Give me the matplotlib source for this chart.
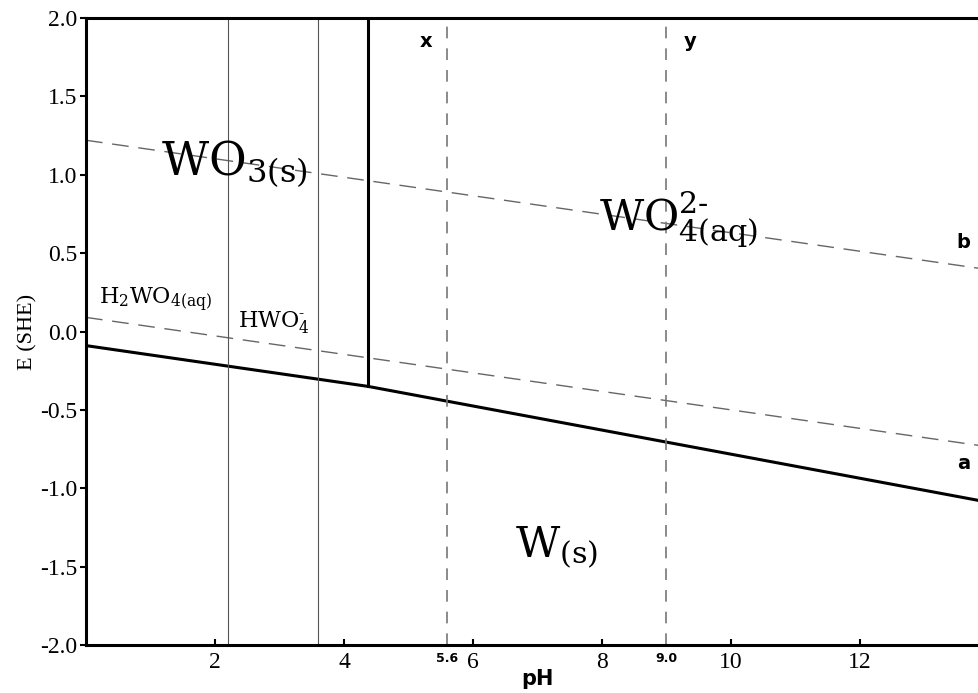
import numpy as np
import matplotlib
matplotlib.use('Agg')
from matplotlib import pyplot as plt

## DATA

# pH range and E range of the diagram
ph_lim = [0, 14]
e_lim = [-2.0, 2.0]

# tick labels
x_ticks = [2, 4, 6, 8, 10, 12]
y_ticks = [-2.0, -1.5, -1.0, -0.5, 0.0, 0.5, 1.0, 1.5, 2.0]

# water stability lines (dashed): E = intercept + slope * pH
water_b = [1.22, -0.059]
water_a = [0.09, -0.059]

# lower solid boundary: W(s) / oxide, break at pH 4.37
w_low_ph = [0, 4.37, 14]
w_low_e = [-0.09, -0.35, -1.09]

# vertical boundaries
wo3_edge_ph = 4.37       # WO3(s) / WO4^2- (thick)
acid_ph = [2.2, 3.6]     # H2WO4 / HWO4- / WO4^2- (thin)
marked_ph = [5.6, 9.0]   # x and y dashed lines

plt.rcParams['mathtext.fontset'] = 'dejavuserif'

fig = plt.figure(figsize=(9.79, 6.93), dpi=100)
ax = fig.add_axes([86/979, 48/693, 903/979, 627/693])

ph = np.array(ph_lim)
ax.plot(ph, water_b[0] + water_b[1]*ph, color='#666666', lw=1, dashes=(12, 7))
ax.plot(ph, water_a[0] + water_a[1]*ph, color='#666666', lw=1, dashes=(12, 7))

ax.plot(w_low_ph, w_low_e, color='black', lw=2.2)
ax.plot([wo3_edge_ph, wo3_edge_ph], [w_low_e[1], e_lim[1]], color='black', lw=2.2)

for p in acid_ph:
    ax.axvline(p, color='#555555', lw=0.8)
for p in marked_ph:
    ax.plot([p, p], [e_lim[0], 1.95], color='#777777', lw=1.2, dashes=(7, 6))

ax.set_xlim(ph_lim)
ax.set_ylim(e_lim)

# species labels
ax.text(1.17, 1.07, r'$\mathrm{WO_{3(s)}}$', fontsize=33, ha='left', va='center')
ax.text(7.95, 0.71, r'$\mathrm{WO_{4(aq)}^{2\text{-}}}$', fontsize=31, ha='left', va='center')
ax.text(6.65, -1.38, r'$\mathrm{W_{(s)}}$', fontsize=31, ha='left', va='center')
ax.text(0.2, 0.2, r'$\mathrm{H_2WO_{4(aq)}}$', fontsize=16, ha='left', va='center')
ax.text(2.35, 0.06, r'$\mathrm{HWO_4^{\text{-}}}$', fontsize=16, ha='left', va='center')

# line labels
ax.text(5.27, 1.85, 'x', fontsize=14, fontweight='bold', ha='center', va='center')
ax.text(9.36, 1.85, 'y', fontsize=14, fontweight='bold', ha='center', va='center')
ax.text(13.6, 0.57, 'b', fontsize=14, fontweight='bold', ha='center', va='center')
ax.text(13.6, -0.84, 'a', fontsize=14, fontweight='bold', ha='center', va='center')

# axes styling
for s in ['top', 'left', 'bottom', 'right']:
    ax.spines[s].set_linewidth(2.2)

ax.set_xticks(x_ticks)
ax.set_xticklabels([str(t) for t in x_ticks], fontname='Liberation Serif', fontsize=17)
ax.set_yticks(y_ticks)
ax.set_yticklabels(['%.1f' % t for t in y_ticks], fontname='Liberation Serif', fontsize=17)
ax.tick_params(axis='x', direction='in', length=4, width=1.5, pad=5)
ax.tick_params(axis='y', direction='out', length=4, width=1.5, pad=2)

for p in marked_ph:
    ax.text(p, -2.045, '%.1f' % p, fontsize=9, fontweight='bold', ha='center', va='top')

ax.set_xlabel('pH', fontsize=15, fontweight='bold', labelpad=-3)
ax.set_ylabel('E (SHE)', fontname='Liberation Serif', fontsize=16, labelpad=2)

plt.savefig('out.png', dpi=100)
